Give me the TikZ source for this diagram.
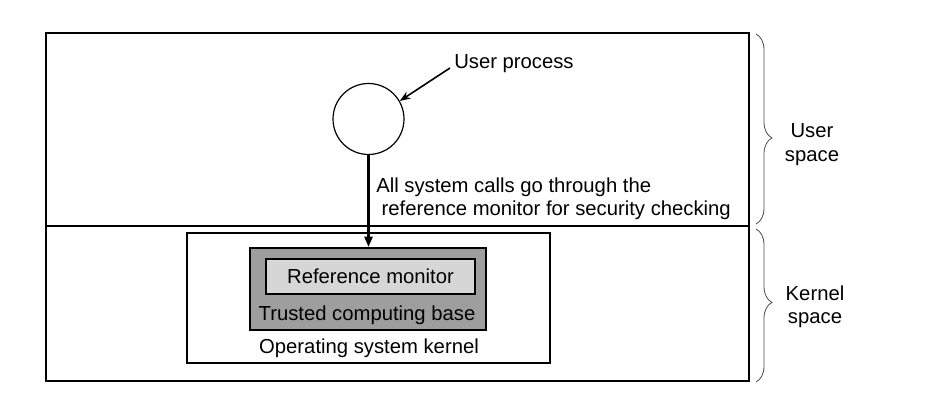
\documentclass[tikz,border=0pt]{standalone}
\usepackage{fontspec}
\setmainfont{Liberation Sans}
\usepackage{tikz}
\usetikzlibrary{arrows.meta,decorations.pathreplacing}

\tikzset{
  lbl/.style={inner sep=0.75pt, font=\fontsize{15.2}{17.6}\selectfont},
  sbox/.style={draw, line width=1.2pt, inner sep=0pt},
  spacebrace/.style={decorate, decoration={brace, amplitude=12pt, aspect=#1}, draw=black!70, line width=0.6pt},
  spacebrace/.default=0.5
}

\begin{document}
\begin{tikzpicture}[x=0.75pt,y=0.75pt,yscale=-1,xscale=1]
\useasboundingbox (0,0) rectangle (931,409);

%Shape: Rectangle [id:outer]
\draw [line width=1.3pt]  (46,33) rectangle (749,381) ;
%Straight Lines [id:divider]
\draw [line width=1.3pt]  (46,226) -- (749,226) ;

%Shape: Rectangle [id:kernel]
\node [sbox, minimum width=272.25pt, minimum height=97.5pt] (kernel) at (368.5,298) {};
%Shape: Rectangle [id:tcb]
\node [sbox, fill=black!38, minimum width=177pt, minimum height=61.5pt] (tcb) at (368,289) {};
%Shape: Rectangle [id:refmon]
\node [sbox, lbl, fill=black!16, minimum width=156.75pt, minimum height=26.25pt, text depth=0pt, text height=11pt] (refmon) at (370.5,276.5) {Reference monitor};
%Shape: Circle [id:proc]
\node [draw, circle, line width=0.9pt, minimum size=53.25pt, inner sep=0pt] (proc) at (368.5,119) {};

%Straight Lines [id:syscall]
\draw [line width=2.2pt, -{Triangle[length=8pt,width=6pt]}]  (proc) -- (proc |- tcb.north) ;
%Straight Lines [id:pointer]
\coordinate (upend) at (450,68) ;
\draw [line width=1.2pt, -{Stealth[length=8pt,width=6pt]}]  (upend) -- (proc.30) ;

%Braces
\draw [spacebrace=0.547]  (756,34) -- (756,224) ;
\draw [spacebrace=0.48]  (756,229) -- (756,382) ;

% Text Node
\node [lbl, anchor=west] (uplabel) at (453,64) {User process};
% Text Node
\node [lbl, anchor=west, align=left] (calls) at (375,199) {All system calls go through the\\\hspace{4pt}reference monitor for security checking};
% Text Node
\node [lbl] (tcblabel) at (367,315) {Trusted computing base};
% Text Node
\node [lbl] (oslabel) at (369,348) {Operating system kernel};
% Text Node
\node [lbl, align=center] (userspace) at (812,144.5) {User\\space};
% Text Node
\node [lbl, align=center] (kernelspace) at (815,306.5) {Kernel\\space};
\end{tikzpicture}
\end{document}
